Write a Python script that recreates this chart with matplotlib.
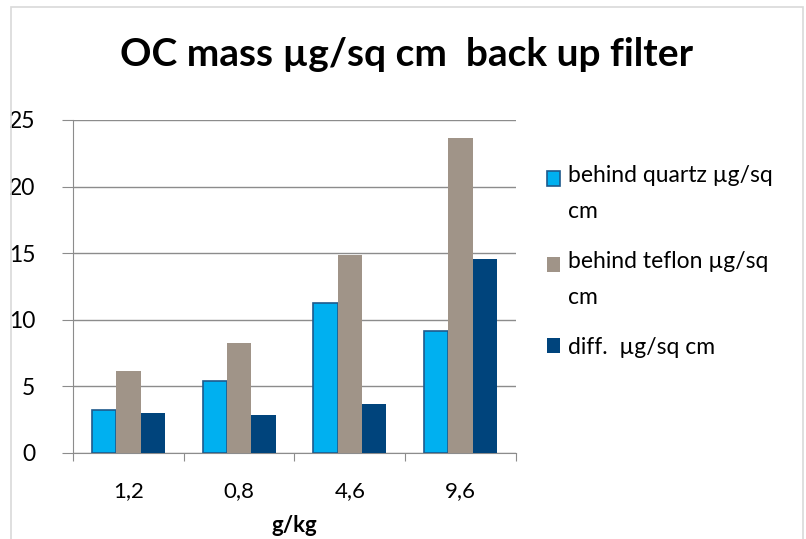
import numpy as np
import matplotlib
matplotlib.use("Agg")
from matplotlib import pyplot as plt
from matplotlib.patches import Rectangle
from matplotlib.legend_handler import HandlerPatch

plt.rcParams["font.family"] = ["Lato", "DejaVu Sans"]

categories = ["1,2", "0,8", "4,6", "9,6"]
quartz = [3.2, 5.43, 11.23, 9.13]
teflon = [6.15, 8.28, 14.88, 23.68]
diff = [2.98, 2.88, 3.65, 14.58]

labels = ["behind quartz µg/sq\ncm", "behind teflon µg/sq\ncm", "diff.  µg/sq cm"]


class ShiftedHandler(HandlerPatch):
    # legend square lifted onto the first line of a wrapped label
    def __init__(self, shift=0):
        super().__init__()
        self.shift = shift

    def _create_patch(self, legend, orig_handle, xdescent, ydescent,
                      width, height, fontsize):
        return Rectangle((-xdescent, -ydescent + self.shift), width, height)


fig = plt.figure(figsize=(8.06, 5.39), dpi=100)
ax = fig.add_axes([0.0906, 0.1596, 0.5494, 0.6178])

# chart border
fig.patches.append(Rectangle((11 / 806, -0.05), 792 / 806, 1 - 7 / 539 + 0.05,
                             transform=fig.transFigure, fill=False,
                             edgecolor="#d9d9d9", linewidth=1.2))

x = np.arange(len(categories))
w = 0.22
b1 = ax.bar(x - w, quartz, w, color="#00b0f0", edgecolor="#1f5a8c", linewidth=1.2,
            label=labels[0], zorder=3)
b2 = ax.bar(x, teflon, w, color="#a09488", label=labels[1], zorder=3)
b3 = ax.bar(x + w, diff, w, color="#00447c", label=labels[2], zorder=3)

ax.set_xlim(-0.5, 3.5)
ax.set_ylim(0, 25)
ax.set_yticks([0, 5, 10, 15, 20, 25])
ax.yaxis.grid(True, color="#8c8c8c", linewidth=1)
ax.set_axisbelow(True)

ax.set_xticks(np.arange(-0.5, 4, 1))
ax.set_xticklabels([])
ax.set_xticks(x, minor=True)
ax.set_xticklabels(categories, minor=True)
ax.tick_params(axis="x", which="major", length=6, color="#8c8c8c", direction="out")
ax.tick_params(axis="x", which="minor", length=0, pad=20, labelsize=16)
ax.tick_params(axis="y", length=8, color="#8c8c8c", labelsize=16.5, pad=19)

for s in ["top", "right"]:
    ax.spines[s].set_visible(False)
ax.spines["left"].set_color("#8c8c8c")
ax.spines["bottom"].set_color("#8c8c8c")

ax.set_xlabel("g/kg", fontsize=16, fontweight="bold", labelpad=10)

fig.text(0.5 * (11 + 803) / 806, 1 - 55 / 539, "OC mass µg/sq cm  back up filter",
         ha="center", va="center", fontsize=28, fontweight="bold")

h1, h2, h3 = b1.patches[0], b2.patches[0], b3.patches[0]
leg = fig.legend(handles=[h1, h2, h3], labels=labels, loc="upper left",
                 bbox_to_anchor=(526 / 806, 1 - 144 / 539), frameon=False,
                 fontsize=16.5, handlelength=0.6, handleheight=0.6,
                 handletextpad=0.35, labelspacing=1.25,
                 handler_map={h1: ShiftedHandler(11), h2: ShiftedHandler(11),
                              h3: ShiftedHandler(0)})
for t in leg.get_texts():
    t.set_linespacing(1.9)

fig.savefig("out.png", dpi=100)
